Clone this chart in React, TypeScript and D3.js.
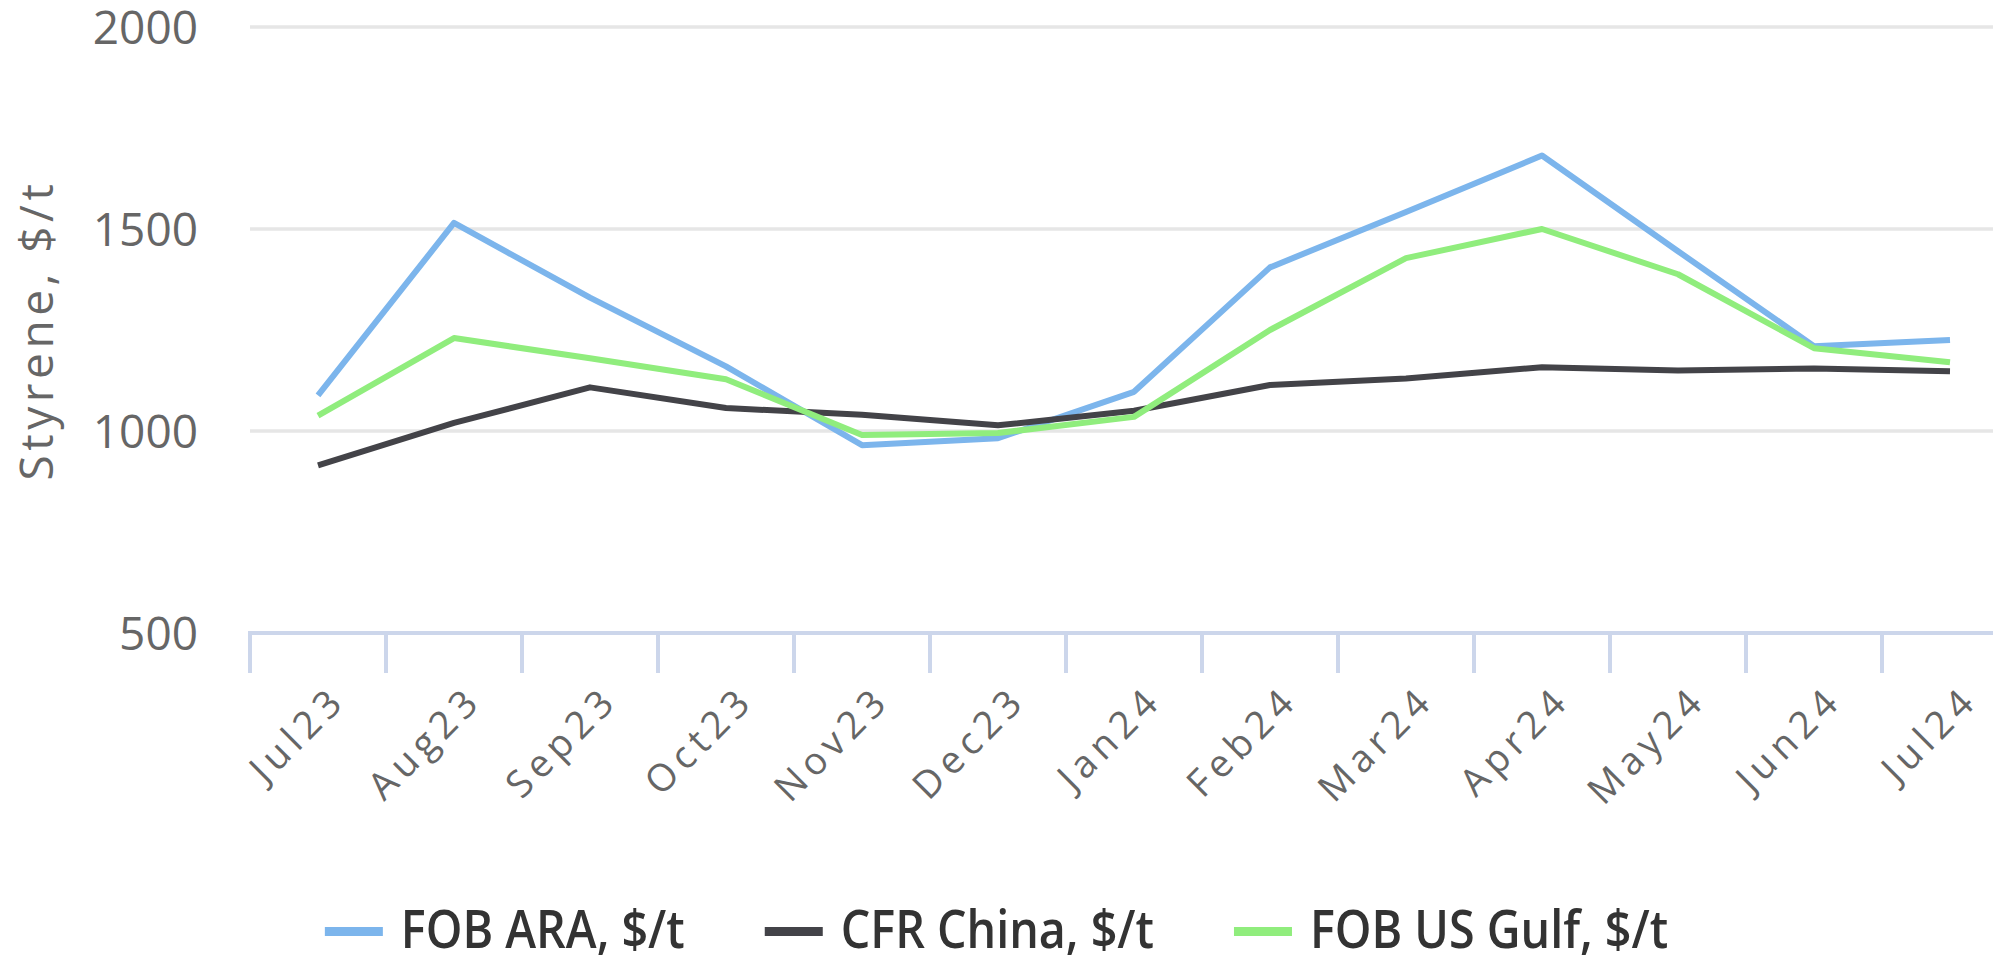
import React, { useEffect, useRef } from 'react'
import * as d3 from 'd3'

// categories and values
const months = ['Jul23', 'Aug23', 'Sep23', 'Oct23', 'Nov23', 'Dec23', 'Jan24', 'Feb24', 'Mar24', 'Apr24', 'May24', 'Jun24', 'Jul24']
const fobAra = [1088, 1515, 1330, 1160, 965, 982, 1097, 1405, 1542, 1682, 1445, 1210, 1225]
const cfrChina = [915, 1020, 1108, 1057, 1040, 1014, 1050, 1114, 1130, 1158, 1150, 1155, 1148]
const fobUsGulf = [1038, 1230, 1180, 1128, 990, 995, 1035, 1250, 1428, 1500, 1388, 1205, 1170]
const yTicks = [500, 1000, 1500, 2000]
const seriesNames = ['FOB ARA, $/t', 'CFR China, $/t', 'FOB US Gulf, $/t']
const seriesColors = ['#7cb5ec', '#434348', '#90ed7d']
const yTitle = 'Styrene, $/t'

export default function App() {
  const ref = useRef<SVGSVGElement>(null)

  useEffect(() => {
    const width = 1993
    const left = 250
    const svg = d3.select(ref.current)
    svg.selectAll('*').remove()

    const x = d3.scaleBand<string>().domain(months).range([left, left + 136 * months.length])
    const y = d3.scaleLinear().domain([500, 2000]).range([633, 27])
    const cx = (m: string) => (x(m) as number) + x.bandwidth() / 2

    // grid
    svg.append('g').selectAll('line')
      .data(yTicks.filter(v => v > 500))
      .enter().append('line')
      .attr('x1', left).attr('x2', width)
      .attr('y1', d => y(d)).attr('y2', d => y(d))
      .attr('stroke', '#e6e6e6').attr('stroke-width', 3.5)

    // x axis
    svg.append('line')
      .attr('x1', left - 2).attr('x2', width)
      .attr('y1', y(500)).attr('y2', y(500))
      .attr('stroke', '#ccd6eb').attr('stroke-width', 4)
    svg.append('g').selectAll('line')
      .data(months)
      .enter().append('line')
      .attr('x1', d => x(d) as number).attr('x2', d => x(d) as number)
      .attr('y1', y(500)).attr('y2', y(500) + 40)
      .attr('stroke', '#ccd6eb').attr('stroke-width', 4)

    svg.append('g').selectAll('text')
      .data(months)
      .enter().append('text')
      .attr('transform', d => 'translate(' + (cx(d) + 30) + ',' + 702 + ') rotate(-45)')
      .attr('text-anchor', 'end')
      .attr('font-family', 'Open Sans')
      .attr('font-size', 38)
      .attr('letter-spacing', 6)
      .attr('fill', '#666666')
      .text(d => d)

    // y labels
    svg.append('g').selectAll('text')
      .data(yTicks)
      .enter().append('text')
      .attr('x', 198)
      .attr('y', d => y(d))
      .attr('dy', '0.36em')
      .attr('text-anchor', 'end')
      .attr('font-family', 'Open Sans')
      .attr('font-size', 46)
      .attr('fill', '#666666')
      .text(d => d)

    svg.append('text')
      .attr('transform', 'translate(53,' + (y(500) + y(2000)) / 2 + ') rotate(-90)')
      .attr('text-anchor', 'middle')
      .attr('font-family', 'Open Sans')
      .attr('font-size', 46)
      .attr('letter-spacing', 4.5)
      .attr('fill', '#666666')
      .text(yTitle)

    // series
    const line = d3.line<number>()
      .x((d, i) => cx(months[i]))
      .y(d => y(d))
    const data = [fobAra, cfrChina, fobUsGulf]
    svg.append('g').selectAll('path')
      .data(data)
      .enter().append('path')
      .attr('d', d => line(d))
      .attr('fill', 'none')
      .attr('stroke', (d, i) => seriesColors[i])
      .attr('stroke-width', 6)
      .attr('stroke-linejoin', 'round')
      .attr('stroke-linecap', 'butt')

    // legend, text a bit narrower like the reference
    const squeeze = 0.88
    const legend = svg.append('g')
    const items = seriesNames.map((name, i) => {
      const g = legend.append('g')
      g.append('rect')
        .attr('x', 0).attr('y', 927)
        .attr('width', 58).attr('height', 9)
        .attr('fill', seriesColors[i])
      const t = g.append('text')
        .attr('transform', 'translate(76,948) scale(' + squeeze + ',1)')
        .attr('font-family', 'Open Sans')
        .attr('font-weight', 600)
        .attr('font-size', 53)
        .attr('fill', '#333333')
        .text(name)
      const w = 76 + (t.node() as SVGTextElement).getComputedTextLength() * squeeze
      return { g, w }
    })
    const total = d3.sum(items, d => d.w) + 80 * (items.length - 1)
    let pos = width / 2 - total / 2
    items.forEach(it => {
      it.g.attr('transform', 'translate(' + pos + ',0)')
      pos += it.w + 80
    })
  }, [])

  return (
    <svg ref={ref} width={1993} height={960}
      style={{ position: 'absolute', left: 0, top: 0, background: '#ffffff' }} />
  )
}
